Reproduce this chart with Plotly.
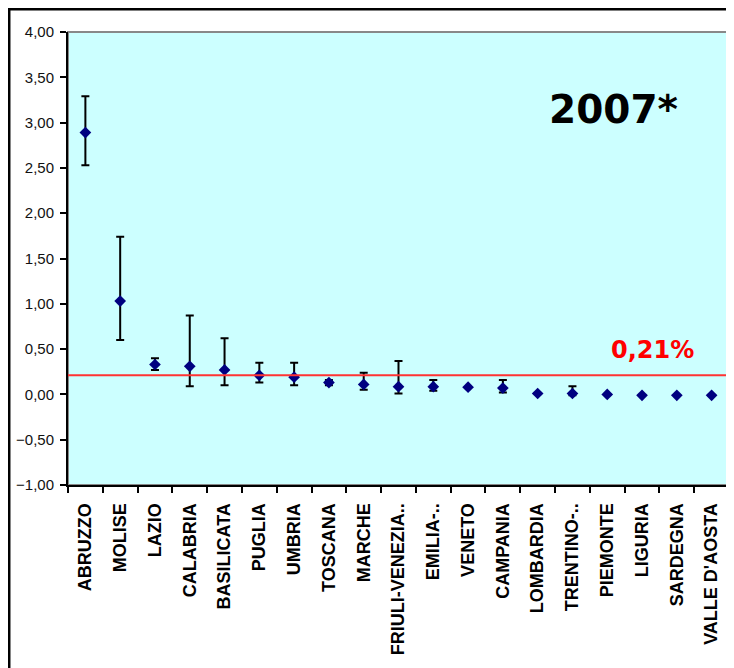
import plotly.graph_objects as go

regions = ["ABRUZZO", "MOLISE", "LAZIO", "CALABRIA", "BASILICATA", "PUGLIA", "UMBRIA",
           "TOSCANA", "MARCHE", "FRIULI-VENEZIA..", "EMILIA-..", "VENETO", "CAMPANIA",
           "LOMBARDIA", "TRENTINO-..", "PIEMONTE", "LIGURIA", "SARDEGNA", "VALLE D'AOSTA"]
values = [2.89, 1.03, 0.33, 0.31, 0.27, 0.21, 0.19, 0.13, 0.11, 0.085, 0.085, 0.08, 0.07,
          0.01, 0.01, 0.00, -0.01, -0.01, -0.01]
upper = [3.29, 1.74, 0.40, 0.87, 0.62, 0.35, 0.35, 0.16, 0.24, 0.37, 0.16, 0.08, 0.16,
         0.01, 0.09, 0.00, -0.01, -0.01, -0.01]
lower = [2.53, 0.60, 0.27, 0.09, 0.10, 0.13, 0.10, 0.10, 0.05, 0.01, 0.04, 0.08, 0.02,
         0.01, -0.01, 0.00, -0.01, -0.01, -0.01]
reference_value = 0.21
reference_label = "0,21%"
year_label = "2007*"

err_plus = [u - v for u, v in zip(upper, values)]
err_minus = [v - l for v, l in zip(values, lower)]

fig = go.Figure()
fig.add_trace(go.Scatter(
    x=regions, y=values, mode="markers",
    marker=dict(symbol="diamond", size=9, color="#000080"),
    error_y=dict(type="data", symmetric=False, array=err_plus, arrayminus=err_minus,
                 color="black", thickness=2, width=4),
    showlegend=False,
))

fig.update_layout(
    width=726, height=660,
    margin=dict(l=60, r=5, t=24, b=183),
    paper_bgcolor="white",
    plot_bgcolor="#CCFFFF",
    separators=",.",
    xaxis=dict(
        type="category", range=[-0.5, len(regions) - 0.5],
        showgrid=False, zeroline=False,
        showline=True, linecolor="black", linewidth=2,
        ticks="outside", tickson="boundaries", ticklen=6, tickwidth=2, tickcolor="black",
        tickangle=-90, ticklabelstandoff=9,
        tickfont=dict(family="Liberation Sans, Arial", size=18, color="black", weight="bold"),
    ),
    yaxis=dict(
        range=[-1, 4], dtick=0.5, tickformat=".2f", showgrid=False, zeroline=False,
        showline=True, linecolor="black", linewidth=2,
        ticks="outside", ticklen=6, tickwidth=2, tickcolor="black",
        ticklabelstandoff=3,
        tickfont=dict(family="Liberation Sans, Arial", size=15, color="#111111"),
    ),
    shapes=[
        dict(type="rect", xref="paper", yref="paper", x0=0, x1=1, y0=0, y1=1,
             line=dict(color="#888888", width=2), layer="below"),
        dict(type="line", xref="paper", yref="y", x0=0, x1=1,
             y0=reference_value, y1=reference_value,
             line=dict(color="#FF3333", width=2)),
        dict(type="rect", xref="paper", yref="paper", x0=-0.0893, x1=1.2, y0=-0.6, y1=1.0508,
             line=dict(color="black", width=3), layer="below"),
    ],
    annotations=[
        dict(text=year_label, xref="paper", yref="paper", x=0.8246, y=0.83,
             showarrow=False, xanchor="center", yanchor="middle",
             font=dict(family="DejaVu Sans", size=39, color="black", weight="bold")),
        dict(text=reference_label, xref="paper", yref="paper", x=0.8836, y=0.298,
             showarrow=False, xanchor="center", yanchor="middle",
             font=dict(family="DejaVu Sans", size=24, color="#FF0000", weight="bold")),
    ],
)

fig.write_html("out.html")
